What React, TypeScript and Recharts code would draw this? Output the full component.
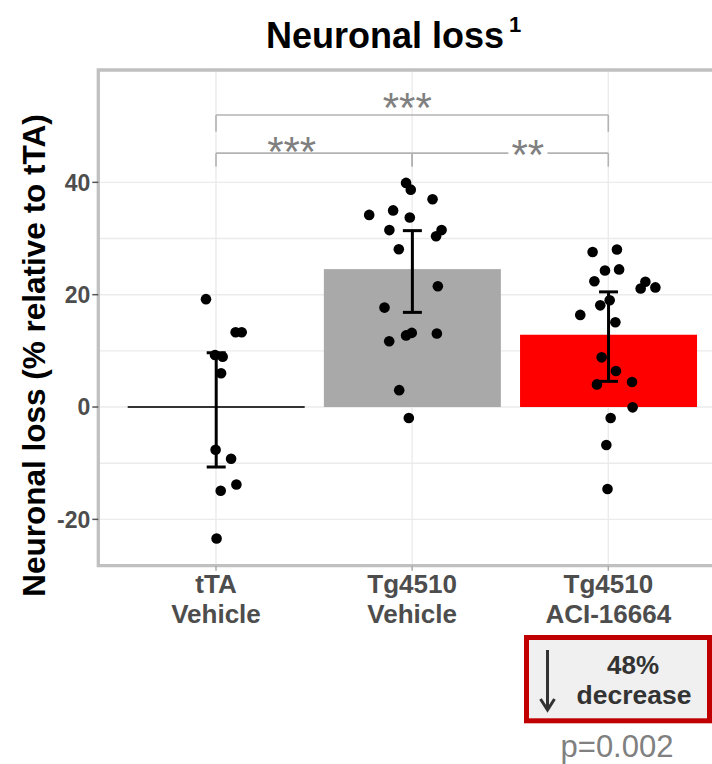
import React from 'react';
import {
  ComposedChart,
  Bar,
  XAxis,
  YAxis,
  CartesianGrid,
  ErrorBar,
  Scatter,
  ReferenceLine,
  ReferenceArea,
} from 'recharts';

const FONT = 'Liberation Sans, Arial, Helvetica, sans-serif';

// ---- Data ----
const groups = ['tTA\nVehicle', 'Tg4510\nVehicle', 'Tg4510\nACI-16664'];
const means = [0, 24.55, 12.87];
const errDown = [10.68, 7.7, 8.3];
const errUp = [9.66, 6.85, 7.63];
const barColors = ['#ffffff', '#a9a9a9', '#ff0000'];

const tTAValues = [19.2, 13.3, 13.3, 9.25, 8.95, 6.0, -7.6, -9.2, -13.8, -14.9, -23.4];
const tTAJitter = [0.949, 1.1, 1.131, 0.995, 1.034, 1.026, 0.998, 1.077, 1.104, 1.024, 1.003];

const vehValues = [39.9, 38.7, 34.2, 35.0, 33.75, 31.5, 28.1, 17.7, 11.7, 12.75, 13.2, 3.0, -1.96, 37.0, 31.5, 30.4, 21.5, 13.1];
const vehJitter = [1.969, 1.993, 1.781, 1.903, 1.988, 1.884, 1.932, 1.859, 1.883, 1.969, 1.998, 1.934, 1.983, 2.104, 2.15, 2.122, 2.131, 2.126];

const aciValues = [27.6, 28.05, 24.3, 24.5, 22.4, 22.3, 21.1, 21.3, 19.0, 18.1, 16.4, 15.1, 8.84, 6.4, 4.03, 4.45, -0.06, -1.96, -6.76, -14.6];
const aciJitter = [2.92, 3.044, 2.983, 3.055, 2.929, 3.189, 3.165, 3.24, 3.007, 2.959, 2.857, 3.036, 2.966, 3.039, 2.942, 3.121, 3.124, 3.012, 2.99, 2.996];

const yMajorTicks = [-20, 0, 20, 40];
const yAllTicks = [-20, -10, 0, 10, 20, 30, 40];
const yDomain = [-28.25, 60];
const xNumDomain = [0.4, 3.6];

// significance brackets
const bracketLeft = [1, 1, 2];
const bracketRight = [3, 2, 3];
const bracketY = [52, 45.2, 45.2];
const bracketDrop = [3.0, 2.4, 2.4];
const sigLabels = ['***', '***', '**'];
const sigX = [1.975, 1.386, 2.59];
const sigY = [55.0, 47.2, 46.6];
const sigBg = [false, false, true];

// ---- Derived tables ----
const barData = groups.map((g, i) => ({
  group: g,
  mean: means[i],
  err: [errDown[i], errUp[i]],
}));

const points = [
  ...tTAValues.map((v, i) => ({ x: tTAJitter[i], y: v })),
  ...vehValues.map((v, i) => ({ x: vehJitter[i], y: v })),
  ...aciValues.map((v, i) => ({ x: aciJitter[i], y: v })),
];

const sigData = sigLabels.map((l, i) => ({ x: sigX[i], y: sigY[i], label: l, bg: sigBg[i] }));

const BarShape = (props: any) => {
  const { x, y, width, height, index } = props;
  if (Math.abs(height) < 0.5) {
    return <line x1={x} x2={x + width} y1={y} y2={y} stroke="#333333" strokeWidth={2} />;
  }
  return <rect x={x} y={y} width={width} height={height} fill={barColors[index]} />;
};

const XTick = (props: any) => {
  const { x, y, payload } = props;
  const lines = String(payload.value).split('\n');
  return (
    <text x={x} y={y} textAnchor="middle" fontFamily={FONT} fontWeight="bold" fontSize={26} fill="#4d4d4d">
      {lines.map((l, i) => (
        <tspan key={i} x={x} dy={i === 0 ? 20.6 : 30}>
          {l}
        </tspan>
      ))}
    </text>
  );
};

const YTick = (props: any) => {
  const { x, y, payload } = props;
  if (!yMajorTicks.includes(payload.value)) return <g />;
  return (
    <g>
      <line x1={x + 2} x2={x + 8} y1={y} y2={y} stroke="#555555" strokeWidth={1.5} />
      <text x={x} y={y} dy="0.355em" textAnchor="end" fontFamily={FONT} fontWeight="bold" fontSize={23} fill="#4d4d4d">
        {payload.value}
      </text>
    </g>
  );
};

const PointShape = (p: any) => <circle cx={p.cx} cy={p.cy} r={5.3} fill="#000000" />;

const SigShape = (p: any) => {
  const { cx, cy, payload } = p;
  return (
    <g>
      {payload.bg && <rect x={cx - 19.5} y={cy - 9} width={39} height={22} fill="#ffffff" />}
      <text x={cx} y={cy} dy={24} textAnchor="middle" fontFamily={FONT} fontSize={42} fill="#808080">
        {payload.label}
      </text>
    </g>
  );
};

export default function App() {
  return (
    <div
      style={{
        position: 'absolute',
        left: 0,
        top: 0,
        width: 712,
        height: 764,
        overflow: 'hidden',
        background: '#ffffff',
      }}
    >
      <ComposedChart
        width={740}
        height={764}
        data={barData}
        margin={{ top: 70, right: 14, bottom: 168.3, left: 0 }}
        barCategoryGap="5%"
      >
        <CartesianGrid stroke="#ebebeb" strokeWidth={1.4} />
        <XAxis
          dataKey="group"
          type="category"
          padding={{ left: 19.6, right: 19.6 }}
          axisLine={false}
          tickLine={{ stroke: '#aaaaaa', strokeWidth: 1.5 }}
          tickSize={5}
          tick={<XTick />}
          height={30}
          interval={0}
        />
        <XAxis xAxisId="num" dataKey="x" type="number" domain={xNumDomain} allowDataOverflow hide />
        <YAxis
          type="number"
          domain={yDomain}
          ticks={yAllTicks}
          allowDataOverflow
          axisLine={false}
          tickLine={false}
          width={98.3}
          tick={<YTick />}
          interval={0}
        />
        <Bar dataKey="mean" isAnimationActive={false} shape={<BarShape />}>
          <ErrorBar dataKey="err" width={9.5} strokeWidth={3} stroke="#000000" direction="y" />
        </Bar>
        <Scatter xAxisId="num" data={points} dataKey="y" isAnimationActive={false} shape={<PointShape />} />
        {bracketLeft.map((l, i) => (
          <ReferenceLine
            key={'h' + i}
            xAxisId="num"
            segment={[
              { x: l, y: bracketY[i] },
              { x: bracketRight[i], y: bracketY[i] },
            ]}
            stroke="#b3b3b3"
            strokeWidth={1.6}
          />
        ))}
        {bracketLeft.map((l, i) => (
          <ReferenceLine
            key={'l' + i}
            xAxisId="num"
            segment={[
              { x: l, y: bracketY[i] },
              { x: l, y: bracketY[i] - bracketDrop[i] },
            ]}
            stroke="#b3b3b3"
            strokeWidth={1.6}
          />
        ))}
        {bracketRight.map((r, i) => (
          <ReferenceLine
            key={'r' + i}
            xAxisId="num"
            segment={[
              { x: r, y: bracketY[i] },
              { x: r, y: bracketY[i] - bracketDrop[i] },
            ]}
            stroke="#b3b3b3"
            strokeWidth={1.6}
          />
        ))}
        <Scatter xAxisId="num" data={sigData} dataKey="y" isAnimationActive={false} shape={<SigShape />} />
        <ReferenceArea
          xAxisId="num"
          x1={xNumDomain[0]}
          x2={xNumDomain[1]}
          y1={yDomain[0]}
          y2={yDomain[1]}
          fill="none"
          stroke="#c0c0c0"
          strokeWidth={3.3}
          ifOverflow="visible"
        />
        <g>
          <text x={266} y={48.3} fontFamily={FONT} fontWeight="bold" fontSize={36} fill="#000000">
            Neuronal loss
          </text>
          <text x={509} y={32} fontFamily={FONT} fontWeight="bold" fontSize={22} fill="#000000">
            1
          </text>
          <text
            x={45}
            y={355.5}
            transform="rotate(-90 45 355.5)"
            textAnchor="middle"
            fontFamily={FONT}
            fontWeight="bold"
            fontSize={31.5}
            fill="#000000"
          >
            Neuronal loss (% relative to tTA)
          </text>
          <rect x={526.5} y={637.5} width={183} height={83.3} fill="#f0f0f0" stroke="#c00000" strokeWidth={5} />
          <line x1={547.5} x2={547.5} y1={650} y2={709} stroke="#333333" strokeWidth={3} />
          <polyline points="540.5,699 547.5,710 554.5,699" fill="none" stroke="#333333" strokeWidth={3} />
          <text x={633} y={673.5} textAnchor="middle" fontFamily={FONT} fontWeight="bold" fontSize={26} fill="#333333">
            48%
          </text>
          <text x={634} y={703.5} textAnchor="middle" fontFamily={FONT} fontWeight="bold" fontSize={26.5} fill="#333333">
            decrease
          </text>
          <text x={617} y={757} textAnchor="middle" fontFamily={FONT} fontSize={31} fill="#808080">
            p=0.002
          </text>
        </g>
      </ComposedChart>
    </div>
  );
}
